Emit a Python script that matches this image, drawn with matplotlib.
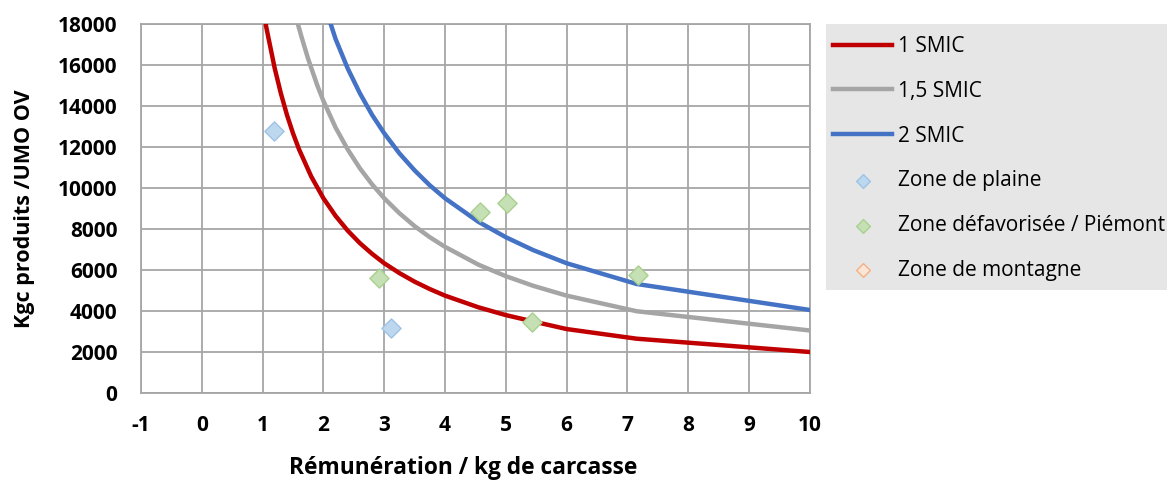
import numpy as np
import matplotlib.pyplot as plt
from matplotlib.patches import Rectangle

plt.rcParams['font.family'] = ['Open Sans', 'DejaVu Sans']

# courbes de rémunération
x_1smic = [1.05, 1.1, 1.2, 1.3, 1.4, 1.5, 1.6, 1.8, 2.0, 2.2, 2.4, 2.6, 2.8, 3.0, 3.25, 3.5,
           3.75, 4.0, 4.55, 5.0, 5.45, 6.0, 7.15, 10.0]
y_1smic = [18000, 17270, 15830, 14620, 13570, 12670, 11880, 10560, 9500, 8640, 7920, 7310,
           6790, 6330, 5850, 5430, 5070, 4750, 4180, 3800, 3490, 3120, 2650, 2000]

x_15smic = [1.58, 1.65, 1.75, 1.9, 2.0, 2.2, 2.4, 2.6, 2.8, 3.0, 3.25, 3.5, 3.75, 4.0, 4.55,
            5.0, 5.45, 6.0, 7.15, 10.0]
y_15smic = [18000, 17270, 16290, 15000, 14250, 12950, 11880, 10960, 10180, 9500, 8770, 8140,
            7600, 7130, 6260, 5700, 5230, 4750, 3990, 3050]

x_2smic = [2.12, 2.2, 2.4, 2.6, 2.8, 3.0, 3.25, 3.5, 3.75, 4.0, 4.55, 5.0, 5.45, 6.0, 7.15, 10.0]
y_2smic = [18000, 17270, 15830, 14620, 13570, 12670, 11690, 10860, 10130, 9500, 8350, 7600,
           6970, 6330, 5320, 4050]

plaine_x = [1.18, 3.11]
plaine_y = [12780, 3170]
defav_x = [2.91, 4.57, 5.02, 5.43, 7.17]
defav_y = [5610, 8830, 9270, 3460, 5760]
montagne_x = []
montagne_y = []

x_ticks = np.arange(-1, 11, 1)
y_ticks = np.arange(0, 18001, 2000)

fig = plt.figure(figsize=(11.67, 4.83), dpi=100)
ax = fig.add_axes([0.1208, 0.1863, 0.694 - 0.1208, 0.9503 - 0.1863])

ax.plot(x_1smic, y_1smic, color='#c00000', linewidth=3.2, label='1 SMIC', zorder=3)
ax.plot(x_15smic, y_15smic, color='#a5a5a5', linewidth=3.2, label='1,5 SMIC', zorder=3)
ax.plot(x_2smic, y_2smic, color='#4472c4', linewidth=3.2, label='2 SMIC', zorder=3)

ax.scatter(plaine_x, plaine_y, marker='D', s=95, color='#bdd7ee', edgecolor='#9dc3e6',
           linewidth=1, label='Zone de plaine', zorder=4)
ax.scatter(defav_x, defav_y, marker='D', s=95, color='#c5e0b4', edgecolor='#a9d18e',
           linewidth=1, label='Zone défavorisée / Piémont', zorder=4)
ax.scatter(montagne_x, montagne_y, marker='D', s=95, color='#fbe5d6', edgecolor='#f4b183',
           linewidth=1, label='Zone de montagne', zorder=4)

ax.set_xlim(-1, 10)
ax.set_ylim(0, 18000)
ax.set_xticks(x_ticks)
ax.set_yticks(y_ticks)
ax.set_xticklabels([str(v) for v in x_ticks], fontsize=15, fontweight='bold')
ax.set_yticklabels([str(v) for v in y_ticks], fontsize=15, fontweight='bold')
ax.tick_params(axis='both', length=0, colors='black')
ax.tick_params(axis='x', pad=16)
ax.tick_params(axis='y', pad=17)

ax.grid(True, color='#a6a6a6', linewidth=1.3)
ax.set_axisbelow(True)
for sp in ax.spines.values():
    sp.set_color('#a6a6a6')
    sp.set_linewidth(1.3)

ax.set_xlabel('Rémunération / kg de carcasse', fontsize=16.4, fontweight='bold')
ax.set_ylabel('Kgc produits /UMO OV', fontsize=15.5, fontweight='bold')
ax.yaxis.set_label_coords(25 / 1167, 1 - 209 / 483, transform=fig.transFigure)
ax.yaxis.label.set_verticalalignment('center')
ax.xaxis.set_label_coords(463 / 1167, 1 - 468 / 483, transform=fig.transFigure)
ax.xaxis.label.set_verticalalignment('center')

# fond gris de la légende
fig.patches.append(Rectangle((826 / 1167, 1 - 290 / 483), 1 - 826 / 1167, (290 - 24) / 483,
                             transform=fig.transFigure, facecolor='#e6e6e6', edgecolor='none', zorder=0))

leg = fig.legend(loc='upper left', bbox_to_anchor=(833 / 1167, 1 - 36 / 483), fontsize=15,
                 frameon=False, handlelength=2.85, labelspacing=1.14, borderpad=0,
                 borderaxespad=0, handletextpad=0.25, markerscale=0.72)

fig.savefig('out.png', dpi=100)
